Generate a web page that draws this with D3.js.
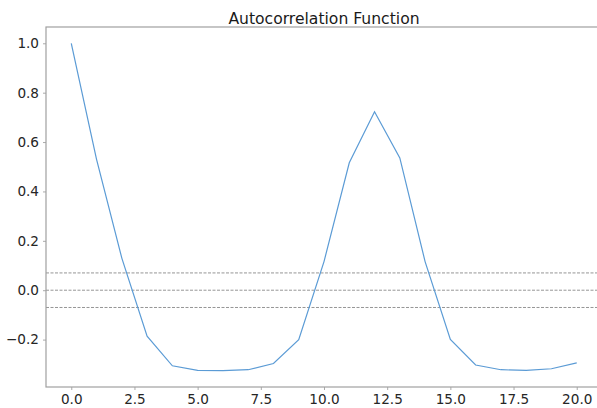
<!DOCTYPE html>
<html>
<head>
<meta charset="utf-8">
<script src="https://cdn.jsdelivr.net/npm/d3@7"></script>
<style>
  body { margin: 0; background: #fff; }
  text { font-family: "DejaVu Sans", sans-serif; }
</style>
</head>
<body>
<script>
// Data
const lags = d3.range(0, 21)
const acf = [1.0, 0.53, 0.13, -0.186, -0.306, -0.325, -0.326, -0.322, -0.297, -0.20,
  0.116, 0.516, 0.723, 0.536, 0.116, -0.199, -0.303, -0.322, -0.325, -0.318, -0.294]
const confLines = [0.07, 0, -0.07]
const xTicks = [0, 2.5, 5, 7.5, 10, 12.5, 15, 17.5, 20]
const yTicks = [-0.2, 0, 0.2, 0.4, 0.6, 0.8, 1.0]

const width = 597
const height = 408
const margin = { top: 27, right: -5, bottom: 21, left: 46 }
const plotWidth = width - margin.left - margin.right
const plotHeight = height - margin.top - margin.bottom

const svg = d3.select("body")
  .append("svg")
  .attr("width", width)
  .attr("height", height)

const x = d3.scaleLinear().domain([-1, 21]).range([0, plotWidth])
const y = d3.scaleLinear().domain([-0.392, 1.066]).range([plotHeight, 0])

const g = svg.append("g")
  .attr("transform", `translate(${margin.left}, ${margin.top})`)

// Dashed reference lines
g.selectAll("line.conf")
  .data(confLines)
  .join("line")
  .attr("class", "conf")
  .attr("x1", 0)
  .attr("x2", plotWidth)
  .attr("y1", d => y(d))
  .attr("y2", d => y(d))
  .style("stroke", "#8a8a8a")
  .style("stroke-width", 0.9)
  .style("stroke-dasharray", "3,1.5")

// The ACF line
g.append("path")
  .datum(acf)
  .attr("d", d3.line().x((d, i) => x(lags[i])).y(d => y(d)))
  .style("fill", "none")
  .style("stroke", "#5b9bd5")
  .style("stroke-width", 1.2)

// Axes
const fmt = d3.format(".1f")
const axisX = g.append("g")
  .attr("transform", `translate(0, ${plotHeight})`)
  .call(d3.axisBottom(x).tickValues(xTicks).tickFormat(fmt).tickSize(3).tickPadding(4))

const axisY = g.append("g")
  .call(d3.axisLeft(y).tickValues(yTicks).tickFormat(d => fmt(d).replace("-", "\u2212")).tickSize(3).tickPadding(4))

for (const ax of [axisX, axisY]) {
  ax.selectAll("text")
    .style("font-family", "DejaVu Sans")
    .style("font-size", "13.6px")
    .style("fill", "#262626")
  ax.selectAll(".tick line").style("stroke", "#aaa")
  ax.select(".domain").remove()
}

// Frame (spines)
g.append("rect")
  .attr("x", 0)
  .attr("y", 0)
  .attr("width", plotWidth)
  .attr("height", plotHeight)
  .style("fill", "none")
  .style("stroke", "#a0a0a0")
  .style("stroke-width", 1.2)

// Title
svg.append("text")
  .attr("x", margin.left + x(10))
  .attr("y", 24)
  .attr("text-anchor", "middle")
  .style("font-size", "15.6px")
  .style("fill", "#1a1a1a")
  .text("Autocorrelation Function")
</script>
</body>
</html>
